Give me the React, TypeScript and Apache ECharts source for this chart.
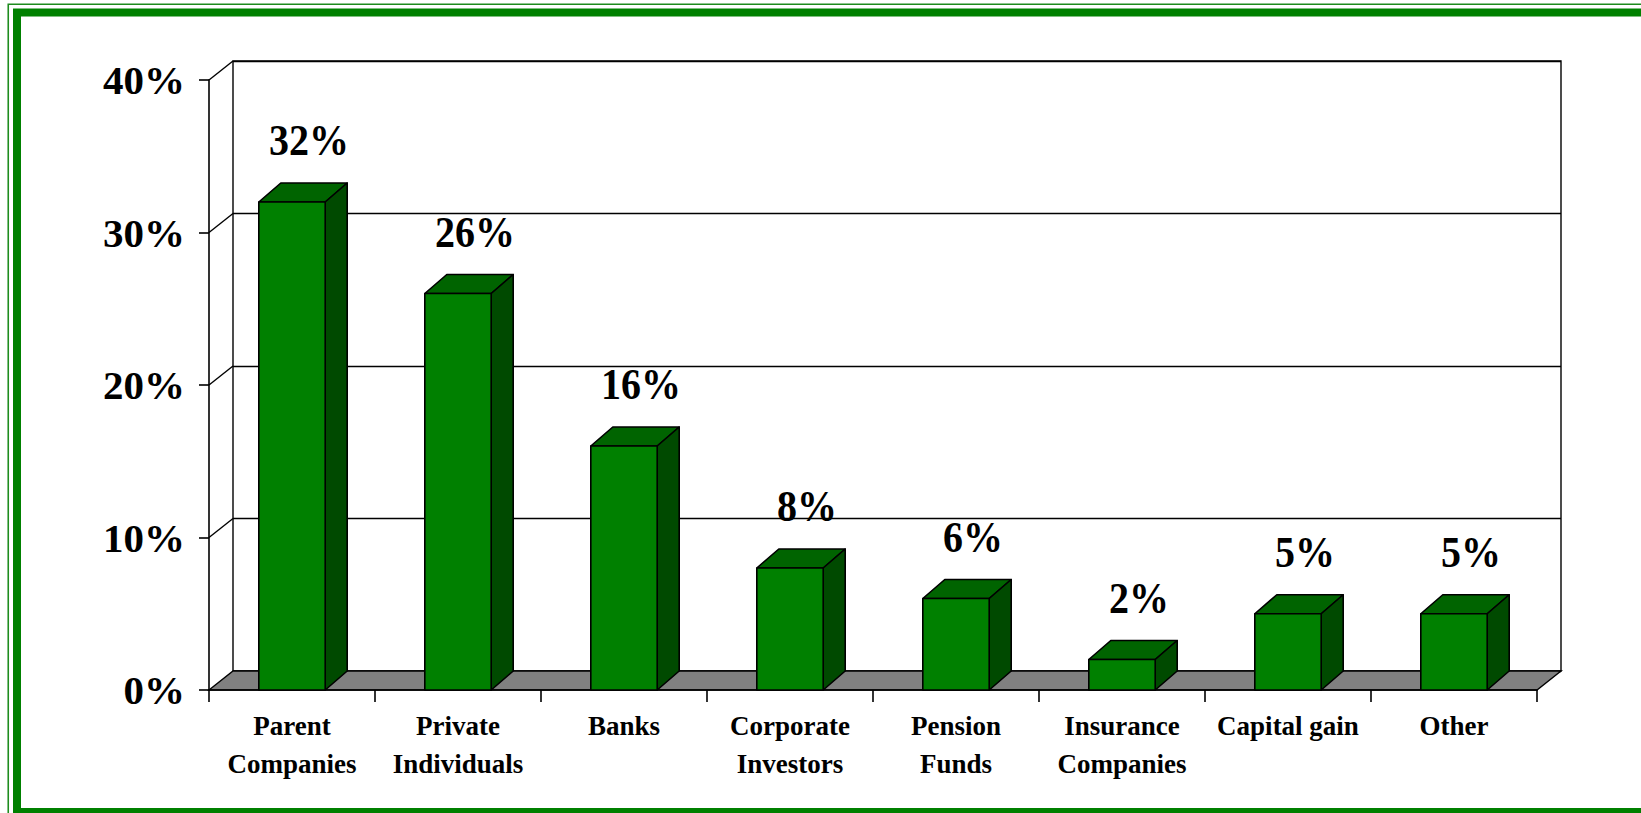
import React, { useEffect, useRef } from "react";
import * as echarts from "echarts";

// ---- data ----
const categories = [
  "Parent\nCompanies",
  "Private\nIndividuals",
  "Banks",
  "Corporate\nInvestors",
  "Pension\nFunds",
  "Insurance\nCompanies",
  "Capital gain",
  "Other",
];
const values = [0.32, 0.26, 0.16, 0.08, 0.06, 0.02, 0.05, 0.05];
const gridLevels = [0.1, 0.2, 0.3, 0.4];
const yMin = 0;
const yMax = 0.4;
const yInterval = 0.1;

// ---- style ----
const FONT = "'Times New Roman', 'Liberation Serif', serif";
const FRONT_COLOR = "#008000";
const TOP_COLOR = "#006400";
const SIDE_COLOR = "#004a00";
const FLOOR_COLOR = "#808080";
const DX = 24; // wall depth
const DY = -19;
const BDX = 22; // bar depth
const BDY = -19;

const pct = (v: number) => Math.round(v * 100) + "%";

function buildOption(): any {
  return {
    animation: false,
    backgroundColor: "#ffffff",
    graphic: [
      {
        type: "rect",
        silent: true,
        shape: { x: 8.25, y: 4.25, width: 1700, height: 900 },
        style: { fill: "none", stroke: "#1e8c1e", lineWidth: 1.6 },
      },
      {
        type: "rect",
        silent: true,
        shape: { x: 17, y: 12.5, width: 1700, height: 799.5 },
        style: { fill: "none", stroke: "#008000", lineWidth: 8 },
      },
    ],
    grid: [
      { left: 209, top: 80, width: 1328, height: 610 },
      {
        left: 209 + DX,
        top: 80 + DY,
        width: 1328,
        height: 610,
        show: true,
        borderColor: "#000",
        borderWidth: 1.4,
        backgroundColor: "transparent",
      },
    ],
    xAxis: [
      {
        type: "category",
        gridIndex: 0,
        data: categories,
        boundaryGap: true,
        z: 5,
        axisLine: { show: true, lineStyle: { color: "#000", width: 1.6 } },
        axisTick: { show: true, length: 12, alignWithLabel: false, lineStyle: { color: "#000", width: 1.6 } },
        axisLabel: {
          interval: 0,
          color: "#000",
          fontFamily: FONT,
          fontWeight: "bold",
          fontSize: 27,
          lineHeight: 38,
          margin: 17,
        },
      },
      { type: "category", gridIndex: 1, data: categories, show: false },
    ],
    yAxis: [
      {
        type: "value",
        gridIndex: 0,
        min: yMin,
        max: yMax,
        interval: yInterval,
        z: 5,
        axisLine: { show: true, lineStyle: { color: "#000", width: 1.6 } },
        axisTick: { show: true, length: 10, lineStyle: { color: "#000", width: 1.6 } },
        splitLine: { show: false },
        axisLabel: {
          formatter: (v: number) => pct(v),
          color: "#000",
          fontFamily: FONT,
          fontWeight: "bold",
          fontSize: 41,
          margin: 24,
        },
      },
      {
        type: "value",
        gridIndex: 1,
        min: yMin,
        max: yMax,
        interval: yInterval,
        axisLine: { show: false },
        axisTick: { show: false },
        axisLabel: { show: false },
        splitLine: { show: true, lineStyle: { color: "#000", width: 1.4 } },
      },
    ],
    series: [
      {
        type: "custom",
        name: "walls",
        xAxisIndex: 0,
        yAxisIndex: 0,
        silent: true,
        z: 3,
        data: gridLevels.map((v) => [0, v]),
        encode: { x: 0, y: 1 },
        renderItem: (params: any, api: any) => {
          const y = api.coord([0, api.value(1)])[1];
          const x0 = params.coordSys.x;
          return {
            type: "line",
            shape: { x1: x0, y1: y, x2: x0 + DX, y2: y + DY },
            style: { stroke: "#000", lineWidth: 1.4 },
          };
        },
      },
      {
        type: "custom",
        name: "floor",
        xAxisIndex: 0,
        yAxisIndex: 0,
        silent: true,
        z: 3,
        data: [[0, 0]],
        encode: { x: 0, y: 1 },
        renderItem: (params: any, api: any) => {
          const y0 = api.coord([0, 0])[1];
          const x0 = params.coordSys.x;
          const x1 = x0 + params.coordSys.width;
          return {
            type: "polygon",
            shape: {
              points: [
                [x0, y0],
                [x1, y0],
                [x1 + DX, y0 + DY],
                [x0 + DX, y0 + DY],
              ],
            },
            style: { fill: FLOOR_COLOR, stroke: "#000", lineWidth: 1.4 },
          };
        },
      },
      {
        type: "custom",
        name: "bars",
        xAxisIndex: 0,
        yAxisIndex: 0,
        silent: true,
        z: 6,
        data: values.map((v, i) => [i, v]),
        encode: { x: 0, y: 1 },
        renderItem: (params: any, api: any) => {
          const i = api.value(0);
          const v = api.value(1);
          const top = api.coord([i, v]);
          const base = api.coord([i, 0]);
          const w = api.size([1, 0])[0] * 0.4;
          const x1 = top[0] - w / 2;
          const x2 = top[0] + w / 2;
          const yt = top[1];
          const yb = base[1];
          const edge = { stroke: "#000", lineWidth: 1.6, lineJoin: "round" };
          return {
            type: "group",
            children: [
              {
                type: "polygon",
                shape: { points: [[x1, yt], [x1 + BDX, yt + BDY], [x2 + BDX, yt + BDY], [x2, yt]] },
                style: { fill: TOP_COLOR, ...edge },
              },
              {
                type: "polygon",
                shape: { points: [[x2, yt], [x2 + BDX, yt + BDY], [x2 + BDX, yb + BDY], [x2, yb]] },
                style: { fill: SIDE_COLOR, ...edge },
              },
              {
                type: "rect",
                shape: { x: x1, y: yt, width: w, height: yb - yt },
                style: { fill: FRONT_COLOR, ...edge },
              },
              {
                type: "text",
                x: top[0] + 17,
                y: yt - 62,
                scaleY: 1.12,
                style: {
                  text: pct(v),
                  fill: "#000",
                  font: `bold 40px ${FONT}`,
                  align: "center",
                  verticalAlign: "middle",
                },
              },
            ],
          };
        },
      },
    ],
  };
}

export default function App() {
  const ref = useRef<HTMLDivElement>(null);
  useEffect(() => {
    if (!ref.current) return;
    const chart = echarts.init(ref.current, null, { renderer: "svg" });
    chart.setOption(buildOption());
    return () => chart.dispose();
  }, []);
  return (
    <div
      ref={ref}
      style={{ position: "absolute", left: 0, top: 0, width: 1641, height: 813, background: "#fff" }}
    />
  );
}
